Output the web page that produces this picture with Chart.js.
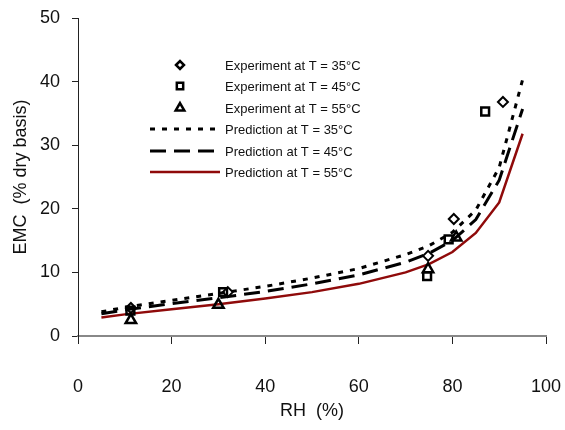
<!DOCTYPE html>
<html>
<head>
<meta charset="utf-8">
<script src="https://cdn.jsdelivr.net/npm/chart.js@4.4.0/dist/chart.umd.min.js"></script>
<style>
  html, body { margin: 0; padding: 0; background: #fff; }
  #wrap { width: 565px; height: 430px; }
</style>
</head>
<body>
<div id="wrap"><canvas id="chart" width="565" height="430"></canvas></div>
<script>
// experimental points (RH %, EMC % d.b.)
const exp35RH = [11.3, 32, 74.8, 80.3, 90.8]
const exp35EMC = [4.4, 6.9, 12.6, 18.4, 36.8]
const exp45RH = [11.2, 31, 74.6, 79.2, 87.0]
const exp45EMC = [4.0, 6.9, 9.4, 15.2, 35.3]
const exp55RH = [11.3, 30, 74.8, 80.8]
const exp55EMC = [2.5, 4.9, 10.5, 15.5]

// model predictions
const predRH = [5, 10, 20, 30, 40, 50, 60, 70, 75, 80, 85, 90, 95]
const pred35 = [3.8, 4.5, 5.6, 6.7, 7.8, 9.1, 10.6, 12.8, 14.2, 16.3, 19.8, 26.5, 40.3]
const pred45 = [3.5, 4.1, 5.1, 6.0, 7.0, 8.2, 9.6, 11.6, 13.0, 15.0, 18.3, 24.5, 35.7]
const pred55 = [2.9, 3.4, 4.2, 5.0, 5.9, 6.9, 8.2, 10.0, 11.3, 13.2, 16.2, 21.0, 31.8]

const xTicks = [0, 20, 40, 60, 80, 100]
const yTicks = [0, 10, 20, 30, 40, 50]

const pts = (xs, ys) => xs.map((x, i) => ({ x: x, y: ys[i] }))
const FONT = "'Liberation Sans', Arial, sans-serif"

const expStyle = (style, r, bw) => ({
  showLine: false,
  pointStyle: style,
  pointRadius: r,
  pointBorderWidth: bw,
  pointBorderColor: '#000',
  pointBackgroundColor: 'rgba(255,255,255,0)',
  borderColor: '#000',
  backgroundColor: 'rgba(255,255,255,0)',
})
const lineStyle = (color, width, dash) => ({
  showLine: true,
  borderColor: color,
  borderWidth: width,
  borderDash: dash,
  pointRadius: 0,
  fill: false,
  tension: 0,
})

// legend drawn inside the plot, like the original
const insideLegend = {
  id: 'insideLegend',
  afterDatasetsDraw(chart) {
    const ctx = chart.ctx
    const rows = [65, 86, 108, 129, 151, 172]
    ctx.save()
    ctx.font = '13px ' + FONT
    ctx.textBaseline = 'middle'
    chart.data.datasets.forEach((ds, i) => {
      const y = rows[i]
      if (ds.showLine) {
        ctx.save()
        ctx.strokeStyle = ds.borderColor
        ctx.lineWidth = ds.borderWidth
        ctx.setLineDash(ds.borderDash || [])
        ctx.beginPath()
        ctx.moveTo(150, y)
        ctx.lineTo(220, y)
        ctx.stroke()
        ctx.restore()
      } else {
        ctx.save()
        ctx.fillStyle = '#fff'
        ctx.strokeStyle = '#000'
        ctx.lineWidth = 2.5
        Chart.helpers.drawPoint(ctx, {
          pointStyle: ds.pointStyle,
          radius: ds.pointRadius - 1,
          borderWidth: 2.5,
          rotation: 0,
        }, 180, y)
        ctx.restore()
      }
      ctx.fillStyle = '#111'
      ctx.fillText(ds.label, 225, y + 1)
    })
    ctx.restore()
  }
}

new Chart(document.getElementById('chart'), {
  type: 'scatter',
  data: {
    datasets: [
      { label: 'Experiment at T = 35°C', data: pts(exp35RH, exp35EMC), ...expStyle('rectRot', 5, 2) },
      { label: 'Experiment at T = 45°C', data: pts(exp45RH, exp45EMC), ...expStyle('rect', 5.5, 2.5) },
      { label: 'Experiment at T = 55°C', data: pts(exp55RH, exp55EMC), ...expStyle('triangle', 6, 2.5) },
      { label: 'Prediction at T = 35°C', data: pts(predRH, pred35), ...lineStyle('#000', 3, [5, 7]) },
      { label: 'Prediction at T = 45°C', data: pts(predRH, pred45), ...lineStyle('#000', 3, [16, 8]) },
      { label: 'Prediction at T = 55°C', data: pts(predRH, pred55), ...lineStyle('#8f0a0a', 2.5, []) },
    ],
  },
  options: {
    responsive: false,
    animation: false,
    layout: { padding: { top: 18, right: 19, left: 0, bottom: 0 } },
    scales: {
      x: {
        type: 'linear',
        min: 0,
        max: 100,
        afterFit: (s) => { s.height = 94; s.paddingLeft = 0; s.paddingRight = 0 },
        afterBuildTicks: (s) => { s.ticks = xTicks.map(v => ({ value: v })) },
        grid: { drawOnChartArea: false, drawTicks: true, tickLength: 8, color: '#222', lineWidth: 1 },
        border: { color: '#888', width: 2 },
        ticks: { padding: 32, color: '#111', font: { family: FONT, size: 18 } },
        title: { display: true, text: 'RH  (%)', color: '#111', font: { family: FONT, size: 18 }, padding: { top: 0, bottom: 8 } },
      },
      y: {
        type: 'linear',
        min: 0,
        max: 50,
        afterFit: (s) => { s.width = 78; s.paddingTop = 0; s.paddingBottom = 0 },
        afterBuildTicks: (s) => { s.ticks = yTicks.map(v => ({ value: v })) },
        grid: { drawOnChartArea: false, drawTicks: true, tickLength: 6, color: '#222', lineWidth: 1 },
        border: { color: '#222', width: 1 },
        ticks: { padding: 12, color: '#111', font: { family: FONT, size: 18 } },
        title: { display: true, text: 'EMC  (% dry basis)', color: '#111', font: { family: FONT, size: 18 }, padding: { top: 10, bottom: 0 } },
      },
    },
    plugins: {
      legend: { display: false },
      tooltip: { enabled: false },
    },
  },
  plugins: [insideLegend],
})
</script>
</body>
</html>
